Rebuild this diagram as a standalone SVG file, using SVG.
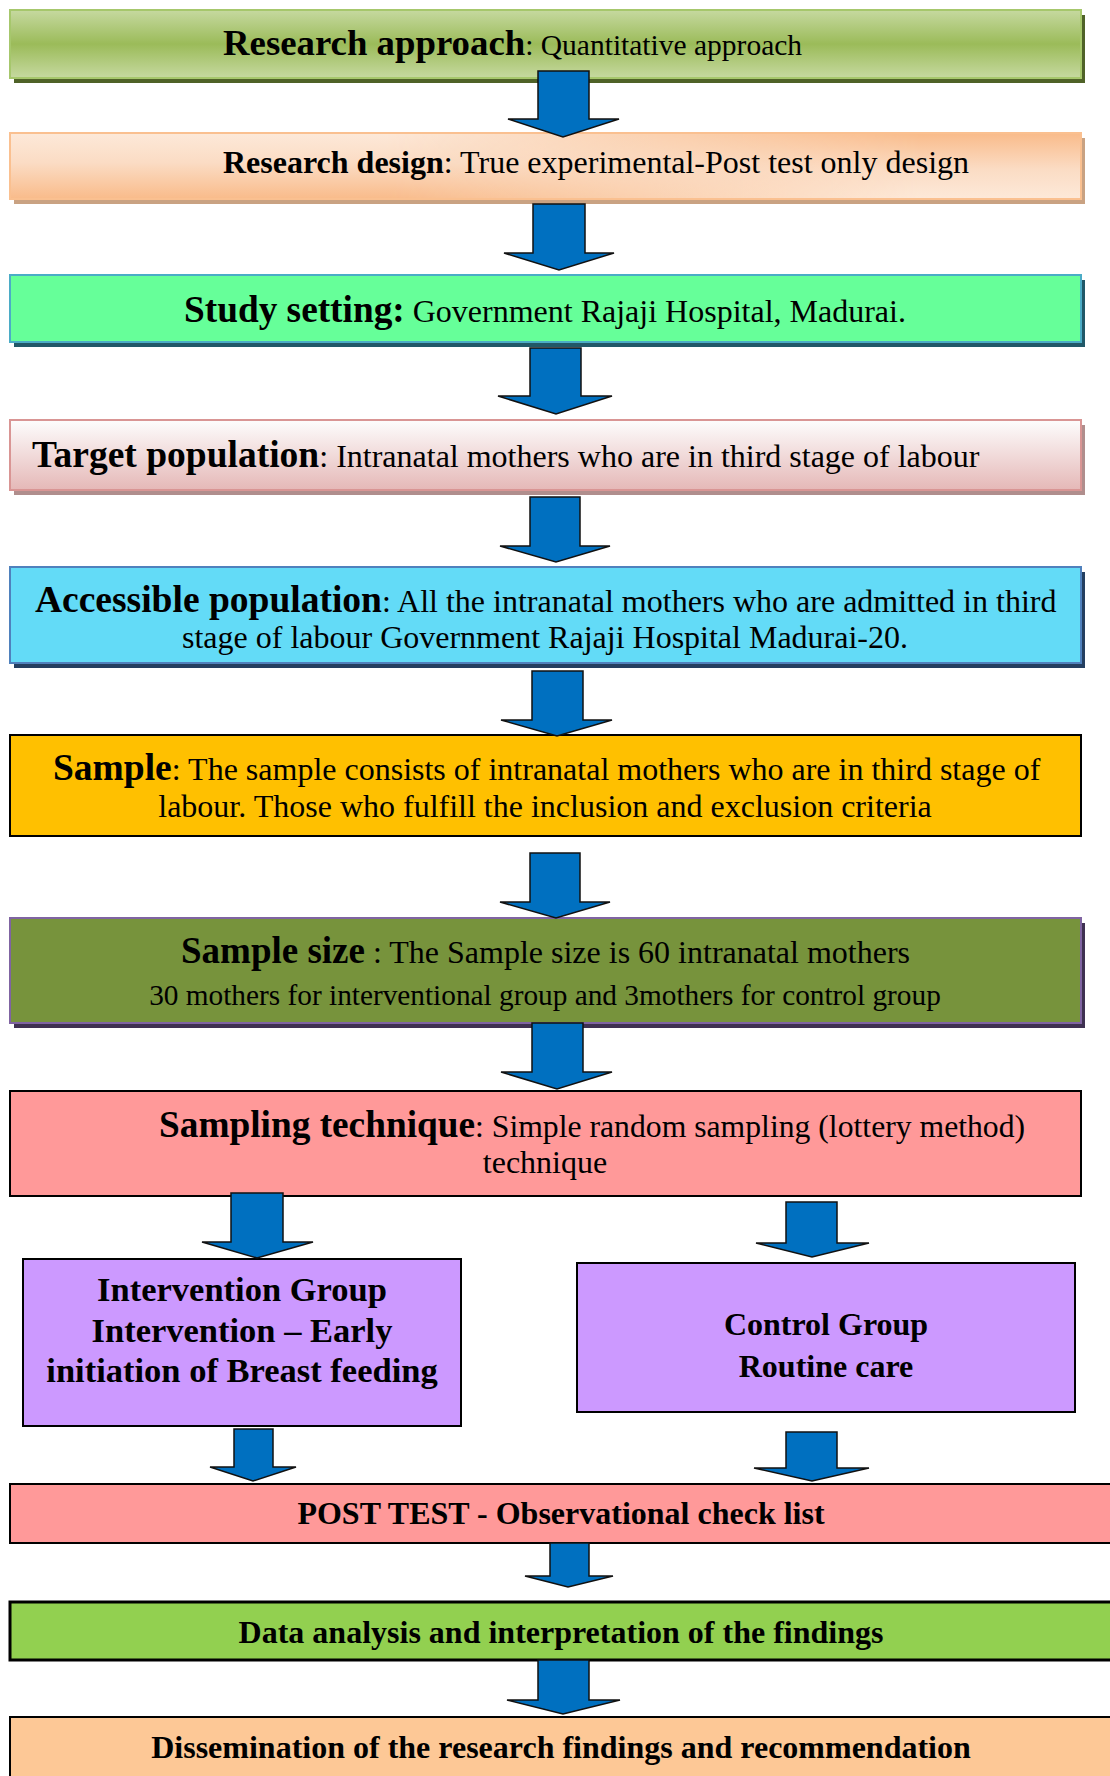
<svg xmlns="http://www.w3.org/2000/svg" width="1110" height="1776" viewBox="0 0 1110 1776">
<defs>
<linearGradient id="gGreen" x1="0" y1="0" x2="0" y2="1">
<stop offset="0" stop-color="#c6d9a0"/><stop offset="0.5" stop-color="#9bbb59"/><stop offset="1" stop-color="#c6d9a0"/>
</linearGradient>
<linearGradient id="gOrA" x1="0" y1="0" x2="0" y2="1">
<stop offset="0" stop-color="#fde9d9"/><stop offset="0.45" stop-color="#fbdcc4"/><stop offset="1" stop-color="#f9bb8a"/>
</linearGradient>
<linearGradient id="gOrB" x1="0" y1="0" x2="0" y2="1">
<stop offset="0" stop-color="#f9bb8a"/><stop offset="0.55" stop-color="#fbdcc4"/><stop offset="1" stop-color="#fde9d9"/>
</linearGradient>
<linearGradient id="gMaskH" x1="0" y1="0" x2="1" y2="0">
<stop offset="0.35" stop-color="#fff" stop-opacity="0"/><stop offset="0.85" stop-color="#fff" stop-opacity="1"/>
</linearGradient>
<mask id="mOr" maskUnits="userSpaceOnUse" x="0" y="120" width="1110" height="100">
<rect x="10" y="133" width="1071" height="66" fill="url(#gMaskH)"/>
</mask>
<linearGradient id="gPink" x1="0" y1="0" x2="0" y2="1">
<stop offset="0" stop-color="#fdfdfd"/><stop offset="1" stop-color="#e5b8b7"/>
</linearGradient>
<style>
text{font-family:"Liberation Serif","Times New Roman",serif;fill:#000}
.b{font-weight:bold}
.arrow{fill:#0070c0;stroke:#111;stroke-width:1.5;stroke-linejoin:miter}
.blk{stroke:#000;stroke-width:2}
.mid{text-anchor:middle}
</style>
</defs>

<g id="node-research-approach">
<rect x="14" y="15" width="1071" height="68" fill="#4f6228"/>
<rect x="10" y="10" width="1071" height="68" fill="url(#gGreen)" stroke="#a6c76c" stroke-width="2"/>
<text x="223" y="55"><tspan class="b" font-size="36.8">Research approach</tspan><tspan font-size="29.5">: Quantitative approach</tspan></text>
</g>

<g id="node-research-design">
<rect x="14" y="138" width="1071" height="66" fill="#c9a282"/>
<rect x="10" y="133" width="1071" height="66" fill="url(#gOrA)"/>
<rect x="10" y="133" width="1071" height="66" fill="url(#gOrB)" mask="url(#mOr)"/>
<rect x="10" y="133" width="1071" height="66" fill="none" stroke="#fac090" stroke-width="2"/>
<text x="223" y="173" font-size="32"><tspan class="b">Research design</tspan>: True experimental-Post test only design</text>
</g>

<g id="node-study-setting">
<rect x="14" y="280" width="1071" height="67" fill="#215868"/>
<rect x="10" y="275" width="1071" height="67" fill="#66ff99" stroke="#4bacc6" stroke-width="2"/>
<text x="184" y="322"><tspan class="b" font-size="37.3">Study setting:</tspan><tspan font-size="32"> Government Rajaji Hospital, Madurai.</tspan></text>
</g>

<g id="node-target-population">
<rect x="14" y="425" width="1071" height="70" fill="#b08e8d"/>
<rect x="10" y="420" width="1071" height="70" fill="url(#gPink)" stroke="#d99594" stroke-width="2"/>
<text x="32" y="467"><tspan class="b" font-size="37.5">Target population</tspan><tspan font-size="32">: Intranatal mothers who are in third stage of labour</tspan></text>
</g>

<g id="node-accessible-population">
<rect x="14" y="572" width="1071" height="96" fill="#243f60"/>
<rect x="10" y="567" width="1071" height="96" fill="#63dbf7" stroke="#4f81bd" stroke-width="2"/>
<text x="35" y="612"><tspan class="b" font-size="37.5">Accessible population</tspan><tspan font-size="32">: All the intranatal mothers who are admitted in third</tspan></text>
<text x="545" y="648" font-size="32" class="mid">stage of labour Government Rajaji Hospital Madurai-20.</text>
</g>

<g id="node-sample">
<rect x="10" y="735" width="1071" height="101" fill="#ffc000" class="blk"/>
<text x="53" y="780"><tspan class="b" font-size="37.5">Sample</tspan><tspan font-size="32">: The sample consists of intranatal mothers who are in third stage of</tspan></text>
<text x="545" y="817" font-size="32" class="mid">labour. Those who fulfill the inclusion and exclusion criteria</text>
</g>

<g id="node-sample-size">
<rect x="14" y="923" width="1071" height="105" fill="#3f3151"/>
<rect x="10" y="918" width="1071" height="105" fill="#77933c" stroke="#8064a2" stroke-width="2"/>
<text x="181" y="963"><tspan class="b" font-size="37">Sample size</tspan><tspan font-size="32"> : The Sample size is 60 intranatal mothers</tspan></text>
<text x="545" y="1005" font-size="29.3" class="mid">30 mothers for interventional group and 3mothers for control group</text>
</g>

<g id="node-sampling-technique">
<rect x="10" y="1091" width="1071" height="105" fill="#ff9999" class="blk"/>
<text x="159" y="1137"><tspan class="b" font-size="37.3">Sampling technique</tspan><tspan font-size="31.7">: Simple random sampling (lottery method)</tspan></text>
<text x="545" y="1173" font-size="32" class="mid">technique</text>
</g>

<g id="node-intervention-group">
<rect x="23" y="1259" width="438" height="167" fill="#cc99ff" class="blk"/>
<text x="242" y="1301" font-size="34.5" class="b mid">Intervention Group</text>
<text x="242" y="1342" font-size="34.5" class="b mid">Intervention – Early</text>
<text x="242" y="1382" font-size="34.5" class="b mid">initiation of Breast feeding</text>
</g>

<g id="node-control-group">
<rect x="577" y="1263" width="498" height="149" fill="#cc99ff" class="blk"/>
<text x="826" y="1335" font-size="32" class="b mid">Control Group</text>
<text x="826" y="1377" font-size="32" class="b mid">Routine care</text>
</g>

<g id="node-post-test">
<rect x="10" y="1484" width="1110" height="59" fill="#ff9999" class="blk"/>
<text x="561" y="1524" font-size="32" class="b mid">POST TEST - Observational check list</text>
</g>

<g id="node-data-analysis">
<rect x="10" y="1602" width="1110" height="58" fill="#92d050" stroke="#000" stroke-width="3"/>
<text x="561" y="1643" font-size="32" class="b mid">Data analysis and interpretation of the findings</text>
</g>

<g id="node-dissemination">
<rect x="10" y="1717" width="1110" height="80" fill="#fdc896" class="blk"/>
<text x="561" y="1758" font-size="32" class="b mid">Dissemination of the research findings and recommendation</text>
</g>

<g id="connectors">
<path class="arrow" d="M538,71 H589 V119 H619 L563,137 L508,119 H538 Z"/>
<path class="arrow" d="M533,204 H585 V253 H614 L559,270 L504,253 H533 Z"/>
<path class="arrow" d="M530,348 H581 V396 H612 L556,414 L498,396 H530 Z"/>
<path class="arrow" d="M530,497 H580 V546 H610 L556,562 L500,546 H530 Z"/>
<path class="arrow" d="M532,671 H583 V720 H612 L557,736 L501,720 H532 Z"/>
<path class="arrow" d="M530,853 H580 V902 H610 L556,918 L500,902 H530 Z"/>
<path class="arrow" d="M532,1023 H583 V1072 H612 L557,1089 L501,1072 H532 Z"/>
<path class="arrow" d="M231,1193 H283 V1242 H313 L257,1258 L202,1242 H231 Z"/>
<path class="arrow" d="M786,1202 H837 V1243 H869 L812,1257 L756,1243 H786 Z"/>
<path class="arrow" d="M234,1429 H273 V1467 H296 L253,1481 L210,1467 H234 Z"/>
<path class="arrow" d="M786,1432 H837 V1468 H869 L812,1481 L754,1468 H786 Z"/>
<path class="arrow" d="M550,1543 H589 V1576 H613 L568,1587 L525,1576 H550 Z"/>
<path class="arrow" d="M538,1660 H589 V1700 H620 L563,1714 L507,1700 H538 Z"/>
</g>
</svg>
